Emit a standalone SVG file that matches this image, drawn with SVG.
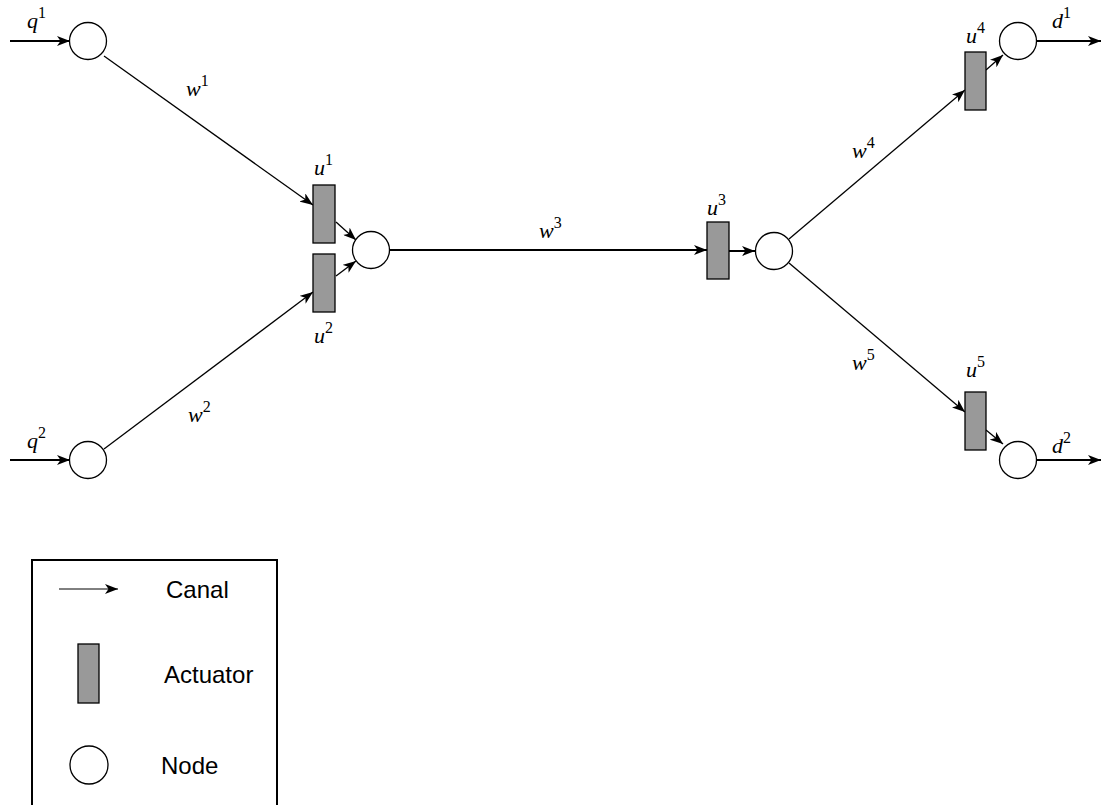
<svg xmlns="http://www.w3.org/2000/svg" width="1102" height="805" viewBox="0 0 1102 805">
<style>
.node{fill:#fff;stroke:#000;stroke-width:1.3}
.act{fill:#999;stroke:#000;stroke-width:1.3}
.edge{stroke:#000;stroke-width:1.3;fill:none}
.io{stroke:#000;stroke-width:2;fill:none}
.m{font-family:"Liberation Serif","DejaVu Serif",serif;font-style:italic;font-size:22px;fill:#000}
.s{font-style:normal;font-size:16px}
.lg{font-family:"Liberation Sans",Arial,sans-serif;font-size:24px;fill:#000}
</style>
<defs>
<marker id="ah" viewBox="0 0 13 10" refX="13" refY="5" markerWidth="13" markerHeight="10" markerUnits="userSpaceOnUse" orient="auto">
<path d="M0,0 L13,5 L0,10 L3.5,5 z" fill="#000"/>
</marker>
</defs>
<rect x="0" y="0" width="1102" height="805" fill="#fff"/>
<g id="connectors">
<line class="io" x1="10" y1="41" x2="70" y2="41" marker-end="url(#ah)"/>
<line class="io" x1="10" y1="460" x2="70" y2="460" marker-end="url(#ah)"/>
<line class="edge" x1="104" y1="56" x2="313" y2="205" marker-end="url(#ah)"/>
<line class="edge" x1="104" y1="449" x2="313" y2="292" marker-end="url(#ah)"/>
<line class="edge" x1="336" y1="222" x2="356" y2="240" marker-end="url(#ah)"/>
<line class="edge" x1="336" y1="276" x2="356" y2="261" marker-end="url(#ah)"/>
<line class="io" x1="389" y1="250" x2="707" y2="250" marker-end="url(#ah)"/>
<line class="io" x1="729" y1="251" x2="755" y2="251" marker-end="url(#ah)"/>
<line class="edge" x1="789" y1="239" x2="965" y2="90" marker-end="url(#ah)"/>
<line class="edge" x1="986" y1="70" x2="1003" y2="55" marker-end="url(#ah)"/>
<line class="edge" x1="789" y1="263" x2="965" y2="412" marker-end="url(#ah)"/>
<line class="edge" x1="986" y1="430" x2="1003" y2="444" marker-end="url(#ah)"/>
<line class="io" x1="1037" y1="41" x2="1101" y2="41" marker-end="url(#ah)"/>
<line class="io" x1="1037" y1="460" x2="1101" y2="460" marker-end="url(#ah)"/>
</g>
<g id="n-q1"><circle class="node" cx="88" cy="41" r="18.5"/></g>
<g id="n-q2"><circle class="node" cx="88" cy="460" r="18.5"/></g>
<g id="n-mid"><circle class="node" cx="371" cy="250" r="18.5"/></g>
<g id="n-right"><circle class="node" cx="774" cy="251" r="18.5"/></g>
<g id="n-d1"><circle class="node" cx="1018" cy="41" r="18.5"/></g>
<g id="n-d2"><circle class="node" cx="1018" cy="460" r="18.5"/></g>
<g id="a-u1"><rect class="act" x="313" y="185" width="22" height="58"/></g>
<g id="a-u2"><rect class="act" x="313" y="254" width="22" height="58"/></g>
<g id="a-u3"><rect class="act" x="707" y="222" width="22" height="57"/></g>
<g id="a-u4"><rect class="act" x="965" y="52" width="21" height="58"/></g>
<g id="a-u5"><rect class="act" x="965" y="392" width="21" height="58"/></g>
<g id="labels">
<text class="m" x="27" y="28">q<tspan class="s" dy="-10">1</tspan></text>
<text class="m" x="27" y="448">q<tspan class="s" dy="-10">2</tspan></text>
<text class="m" x="186" y="96">w<tspan class="s" dy="-10">1</tspan></text>
<text class="m" x="188" y="422">w<tspan class="s" dy="-10">2</tspan></text>
<text class="m" x="539" y="238">w<tspan class="s" dy="-10">3</tspan></text>
<text class="m" x="852" y="158">w<tspan class="s" dy="-10">4</tspan></text>
<text class="m" x="852" y="370">w<tspan class="s" dy="-10">5</tspan></text>
<text class="m" x="314" y="175">u<tspan class="s" dy="-10">1</tspan></text>
<text class="m" x="314" y="343">u<tspan class="s" dy="-10">2</tspan></text>
<text class="m" x="707" y="215">u<tspan class="s" dy="-10">3</tspan></text>
<text class="m" x="966" y="43">u<tspan class="s" dy="-10">4</tspan></text>
<text class="m" x="966" y="377">u<tspan class="s" dy="-10">5</tspan></text>
<text class="m" x="1052" y="28">d<tspan class="s" dy="-10">1</tspan></text>
<text class="m" x="1052" y="453">d<tspan class="s" dy="-10">2</tspan></text>
</g>
<g id="legend">
<rect x="32" y="560" width="245" height="270" fill="none" stroke="#000" stroke-width="2"/>
<line x1="59" y1="589" x2="118" y2="589" stroke="#000" stroke-width="1" marker-end="url(#ah)"/>
<text class="lg" x="166" y="598">Canal</text>
<rect class="act" x="78" y="644" width="21" height="59"/>
<text class="lg" x="164" y="683">Actuator</text>
<circle class="node" cx="89" cy="765" r="19"/>
<text class="lg" x="161" y="774">Node</text>
</g>
</svg>
